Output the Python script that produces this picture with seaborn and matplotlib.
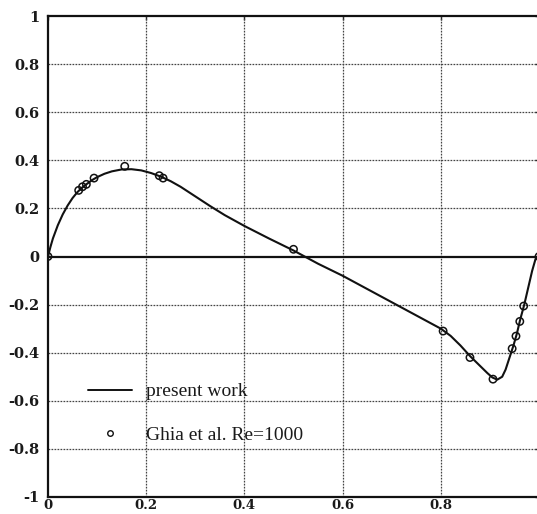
import matplotlib
matplotlib.use("Agg")
import matplotlib.pyplot as plt
from matplotlib.lines import Line2D
import seaborn as sns
import pandas as pd

# computed v-velocity along the horizontal centreline
curve_x = [0.0, 0.005, 0.01, 0.02, 0.03, 0.04, 0.05, 0.06, 0.07, 0.08,
           0.09, 0.10, 0.115, 0.13, 0.15, 0.17, 0.19, 0.21, 0.23, 0.25,
           0.27, 0.30, 0.33, 0.36, 0.40, 0.45, 0.50, 0.55, 0.60, 0.65,
           0.70, 0.75, 0.80, 0.82, 0.84, 0.86, 0.88, 0.895, 0.905, 0.915,
           0.925, 0.932, 0.94, 0.948, 0.955, 0.962, 0.97, 0.978, 0.986, 0.993,
           1.0]
curve_v = [0.0, 0.04, 0.075, 0.13, 0.175, 0.212, 0.243, 0.268, 0.287, 0.303,
           0.318, 0.33, 0.344, 0.354, 0.362, 0.363, 0.358, 0.347, 0.332, 0.313,
           0.29, 0.25, 0.21, 0.172, 0.127, 0.075, 0.025, -0.03, -0.08, -0.135,
           -0.19, -0.245, -0.30, -0.33, -0.37, -0.415, -0.455, -0.485, -0.503, -0.512,
           -0.50, -0.47, -0.42, -0.37, -0.32, -0.26, -0.20, -0.13, -0.06, -0.01,
           0.0]

# reference values, Ghia et al. Re=1000
ghia_x = [0.0, 0.0625, 0.0703, 0.0781, 0.0938, 0.1563, 0.2266, 0.2344, 0.5,
          0.8047, 0.8594, 0.9063, 0.9453, 0.9531, 0.9609, 0.9688, 1.0]
ghia_v = [0.0, 0.275, 0.29, 0.30, 0.326, 0.375, 0.336, 0.326, 0.03,
          -0.31, -0.42, -0.51, -0.383, -0.331, -0.27, -0.206, 0.0]

x_ticks = [0.0, 0.2, 0.4, 0.6, 0.8]
x_tick_labels = ["0", "0.2", "0.4", "0.6", "0.8"]
y_ticks = [-1.0, -0.8, -0.6, -0.4, -0.2, 0.0, 0.2, 0.4, 0.6, 0.8, 1.0]
y_tick_labels = ["-1", "-0.8", "-0.6", "-0.4", "-0.2", "0", "0.2", "0.4", "0.6", "0.8", "1"]

labels = ["present work", "Ghia et al. Re=1000"]

sns.set_style("white")

curve_df = pd.DataFrame({"x": curve_x, "v": curve_v})
ghia_df = pd.DataFrame({"x": ghia_x, "v": ghia_v})

W, H = 537, 514
fig = plt.figure(figsize=(W / 100, H / 100), dpi=100)
ax = fig.add_axes([48 / W, 1 - 497 / H, (539 - 48) / W, (497 - 16) / H])

ax.set_xlim(0, 1)
ax.set_ylim(-1, 1)

# dotted grid at every 0.2
for t in x_ticks[1:]:
    ax.axvline(t, color="#444444", lw=0.9, ls=(0, (1.4, 1.0)), zorder=1)
for t in y_ticks[1:-1]:
    if t != 0.0:
        ax.axhline(t, color="#444444", lw=0.9, ls=(0, (1.4, 1.0)), zorder=1)
ax.axhline(0.0, color="#111111", lw=1.6, zorder=2)

sns.lineplot(data=curve_df, x="x", y="v", ax=ax, color="#111111", lw=1.5,
             zorder=3, legend=False)
sns.scatterplot(data=ghia_df, x="x", y="v", ax=ax, marker="o", s=28,
                facecolor="none", edgecolor="#111111", linewidth=1.1,
                zorder=4, legend=False)

ax.set_xticks(x_ticks)
ax.set_xticklabels(x_tick_labels)
ax.set_yticks(y_ticks)
ax.set_yticklabels(y_tick_labels)
ax.set_xlabel("")
ax.set_ylabel("")

for lab in ax.get_xticklabels() + ax.get_yticklabels():
    lab.set_fontfamily("DejaVu Serif")
    lab.set_fontweight("bold")
    lab.set_fontsize(10.5)
    lab.set_color("#1a1a1a")
for lab in ax.get_xticklabels():
    lab.set_fontsize(9.5)
ax.tick_params(axis="both", direction="in", length=3, width=1, color="#222222",
               top=True, right=True)
ax.tick_params(axis="x", pad=1.5)
ax.tick_params(axis="y", pad=6)

for s in ax.spines.values():
    s.set_linewidth(1.6)
    s.set_color("#111111")
    s.set_visible(True)

handles = [Line2D([], [], color="#111111", lw=1.4),
           Line2D([], [], color="#111111", marker="o", ls="none", markersize=4,
                  markerfacecolor="none", markeredgewidth=1.0)]
leg = ax.legend(handles, labels, loc="upper left",
                bbox_to_anchor=((78 - 48) / 491, (497 - 373) / 481),
                frameon=False, borderpad=0, handlelength=2.3, handletextpad=0.7,
                labelspacing=1.35,
                prop=dict(family="Liberation Serif", size=14))
for t in leg.get_texts():
    t.set_color("#1a1a1a")

fig.savefig("out.png", dpi=100)
